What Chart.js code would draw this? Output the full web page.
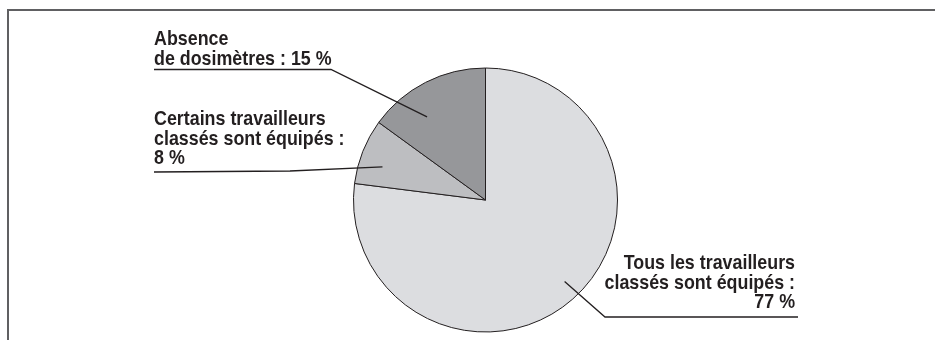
<!DOCTYPE html>
<html lang="fr">
<head>
<meta charset="utf-8">
<title>Équipement en dosimètres</title>
<script src="https://cdn.jsdelivr.net/npm/chart.js@4.4.1/dist/chart.umd.min.js"></script>
<style>
  html, body { margin: 0; padding: 0; background: #ffffff; }
  canvas { display: block; }
</style>
</head>
<body>
<canvas id="pie" width="935" height="340"></canvas>
<script>
// Share of establishments by dosimeter equipment (percent)
const categories = [
  'Tous les travailleurs classés sont équipés',
  'Certains travailleurs classés sont équipés',
  'Absence de dosimètres'
];
const shares = [77, 8, 15];
const sliceColors = ['#dcdde0', '#bdbec1', '#96979a'];

// Callout text, one array of lines per slice
const calloutLines = [
  ['Tous les travailleurs', 'classés sont équipés :', '77 %'],
  ['Certains travailleurs', 'classés sont équipés :', '8 %'],
  ['Absence', 'de dosimètres : 15 %']
];

// Callout placement: text anchor, underline, and where the leader enters the slice
// (angle as a fraction of the slice sweep, distance as a fraction of the radius)
const calloutStyle = [
  { x: 795, y: 269, align: 'right', under: [[798, 317], [605, 317]], sweep: 0.49, depth: 0.86 },
  { x: 154, y: 125, align: 'left',  under: [[154, 172], [290, 171]], sweep: 0.37, depth: 0.82 },
  { x: 154, y: 45,  align: 'left',  under: [[154, 69.5], [331, 69.5]], sweep: 0.35, depth: 0.77 }
];

// Bold sans, squeezed horizontally to get a condensed face
const FONT = 'bold 21px "Liberation Sans", Arial, sans-serif';
const SQUEEZE = 0.85;
const LINE_H = 19.5;
const INK = '#231f20';

const calloutPlugin = {
  id: 'callouts',
  beforeDraw(chart) {
    const ctx = chart.ctx;
    ctx.save();
    ctx.strokeStyle = '#606062';
    ctx.lineWidth = 2;
    ctx.beginPath();
    ctx.moveTo(8, 340);
    ctx.lineTo(8, 10);
    ctx.lineTo(935, 10);
    ctx.stroke();
    ctx.restore();
  },
  afterDatasetsDraw(chart) {
    const ctx = chart.ctx;
    const arcs = chart.getDatasetMeta(0).data;
    ctx.save();
    ctx.fillStyle = INK;
    ctx.strokeStyle = INK;
    ctx.font = FONT;
    ctx.textBaseline = 'alphabetic';
    calloutLines.forEach((lines, i) => {
      const st = calloutStyle[i];
      ctx.textAlign = st.align;
      lines.forEach((t, k) => {
        ctx.save();
        ctx.translate(st.x, st.y + k * LINE_H);
        ctx.scale(SQUEEZE, 1);
        ctx.fillText(t, 0, 0);
        ctx.restore();
      });

      const arc = arcs[i];
      const p = arc.getProps(['x', 'y', 'startAngle', 'endAngle', 'outerRadius'], true);
      const a = p.startAngle + (p.endAngle - p.startAngle) * st.sweep;
      const ex = p.x + Math.cos(a) * p.outerRadius * st.depth;
      const ey = p.y + Math.sin(a) * p.outerRadius * st.depth;

      ctx.lineWidth = 1.3;
      ctx.beginPath();
      ctx.moveTo(st.under[0][0], st.under[0][1]);
      ctx.lineTo(st.under[1][0], st.under[1][1]);
      ctx.lineTo(ex, ey);
      ctx.stroke();
    });
    ctx.restore();
  }
};

new Chart(document.getElementById('pie'), {
  type: 'pie',
  data: {
    labels: categories,
    datasets: [{
      data: shares,
      backgroundColor: sliceColors,
      borderColor: INK,
      borderWidth: 1,
      borderAlign: 'center'
    }]
  },
  options: {
    responsive: false,
    animation: false,
    layout: { padding: { top: 67.5, bottom: 7.5, left: 353, right: 317 } },
    plugins: {
      legend: { display: false },
      tooltip: { enabled: false }
    }
  },
  plugins: [calloutPlugin]
});
</script>
</body>
</html>
